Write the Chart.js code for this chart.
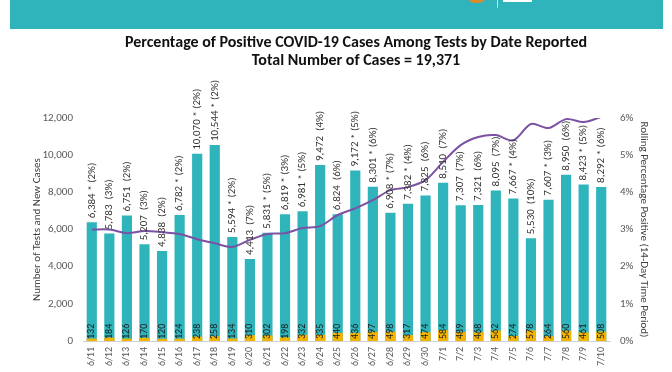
<!DOCTYPE html>
<html>
<head>
<meta charset="utf-8">
<script src="https://cdn.jsdelivr.net/npm/chart.js@4/dist/chart.umd.min.js"></script>
<style>
  html, body { margin: 0; padding: 0; background: #fff; }
  #wrap { position: relative; width: 672px; height: 372px; overflow: hidden; }
  #banner { position: absolute; left: 10px; top: 0; width: 653px; height: 29px; background: #30b4bb; }
  #sol { position: absolute; left: 468px; top: -6px; width: 17px; height: 9px; border-radius: 50%; background: #d98a2b; }
  #raya { position: absolute; left: 497px; top: 0; width: 1px; height: 8px; background: #bfe6e8; }
  #cuadro { position: absolute; left: 503px; top: 0; width: 29px; height: 2px; background: #fff; }
  #titulo { position: absolute; left: 0; top: 33px; width: 712px; text-align: center;
            font: bold 16px Carlito, Lato, sans-serif; color: #111; line-height: 18px; }
  canvas { position: absolute; left: 0; top: 0; }
</style>
</head>
<body>
<div id="wrap">
  <div id="banner"></div>
  <div id="sol"></div>
  <div id="raya"></div>
  <div id="cuadro"></div>
  <canvas id="chart" width="672" height="372"></canvas>
  <div id="titulo">Percentage of Positive COVID-19 Cases Among Tests by Date Reported<br>Total Number of Cases = 19,371</div>
</div>
<script>
// datos
const fechas = ['6/11', '6/12', '6/13', '6/14', '6/15', '6/16', '6/17', '6/18', '6/19', '6/20',
  '6/21', '6/22', '6/23', '6/24', '6/25', '6/26', '6/27', '6/28', '6/29', '6/30',
  '7/1', '7/2', '7/3', '7/4', '7/5', '7/6', '7/7', '7/8', '7/9', '7/10'];

const pruebas = [6384, 5783, 6751, 5207, 4838, 6782, 10070, 10544, 5594, 4413,
  5831, 6819, 6981, 9472, 6824, 9172, 8301, 6908, 7382, 7825,
  8510, 7307, 7321, 8095, 7667, 5530, 7607, 8950, 8423, 8292];

const casos = [132, 184, 126, 170, 120, 124, 238, 258, 134, 310,
  302, 198, 332, 335, 440, 436, 497, 498, 317, 474,
  584, 489, 468, 562, 274, 578, 264, 560, 461, 508];

const porcentajeDia = [2, 3, 2, 3, 2, 2, 2, 2, 2, 7,
  5, 3, 5, 4, 6, 5, 6, 7, 4, 6,
  7, 7, 6, 7, 4, 10, 3, 6, 5, 6];

const asterisco = [1, 0, 0, 0, 0, 1, 1, 1, 1, 0,
  1, 1, 1, 0, 0, 1, 1, 1, 1, 0,
  0, 0, 0, 0, 1, 0, 1, 0, 1, 1];

const promedioMovil = [3.0, 3.0, 2.9, 2.96, 2.93, 2.88, 2.74, 2.63, 2.53, 2.72,
  2.88, 2.9, 3.04, 3.09, 3.39, 3.57, 3.79, 4.06, 4.14, 4.33,
  4.82, 5.27, 5.49, 5.54, 5.4, 5.84, 5.73, 5.97, 5.89, 6.03];

const ticksIzq = [0, 2000, 4000, 6000, 8000, 10000, 12000];
const ticksDer = [0, 1, 2, 3, 4, 5, 6];

const fuente = 'Carlito, Lato, sans-serif';

// etiquetas giradas sobre y dentro de las barras
const etiquetas = {
  id: 'etiquetas',
  afterDatasetsDraw(chart) {
    const ctx = chart.ctx;
    const metaPruebas = chart.getDatasetMeta(2);
    const metaCasos = chart.getDatasetMeta(1);
    const base = chart.scales.y.getPixelForValue(0);
    ctx.save();
    ctx.textBaseline = 'middle';
    ctx.textAlign = 'left';

    metaPruebas.data.forEach((barra, i) => {
      const texto = pruebas[i].toLocaleString('en-US') + (asterisco[i] ? ' * ' : '  ') + '(' + porcentajeDia[i] + '%)';
      ctx.save();
      ctx.translate(barra.x, barra.y - 4);
      ctx.rotate(-Math.PI / 2);
      ctx.font = '11px ' + fuente;
      ctx.fillStyle = '#333';
      ctx.fillText(texto, 0, 0);
      ctx.restore();
    });

    metaCasos.data.forEach((barra, i) => {
      ctx.save();
      ctx.translate(barra.x, base - 2);
      ctx.rotate(-Math.PI / 2);
      ctx.font = '10px ' + fuente;
      ctx.fillStyle = '#1a1a1a';
      ctx.fillText(String(casos[i]), 0, 0);
      ctx.restore();
    });
    ctx.restore();
  }
};

const ctx = document.getElementById('chart').getContext('2d');

new Chart(ctx, {
  type: 'bar',
  data: {
    labels: fechas,
    datasets: [
      {
        type: 'line',
        label: 'Rolling Percentage Positive',
        data: promedioMovil,
        yAxisID: 'y2',
        borderColor: '#7b52a3',
        borderWidth: 2,
        pointRadius: 0,
        tension: 0.3,
        fill: false,
        order: 0
      },
      {
        label: 'New Cases',
        data: casos,
        yAxisID: 'y',
        backgroundColor: '#f2b400',
        grouped: false,
        barPercentage: 0.58,
        categoryPercentage: 1,
        order: 1
      },
      {
        label: 'Tests',
        data: pruebas,
        yAxisID: 'y',
        backgroundColor: '#30b4bb',
        grouped: false,
        barPercentage: 0.58,
        categoryPercentage: 1,
        order: 2
      }
    ]
  },
  options: {
    responsive: false,
    animation: false,
    layout: { padding: { top: 118, left: 27, right: 18, bottom: 0 } },
    plugins: {
      legend: { display: false },
      tooltip: { enabled: false },
      title: { display: false }
    },
    scales: {
      x: {
        grid: { display: false, drawTicks: false },
        border: { color: '#d0d0d0' },
        ticks: { minRotation: 90, maxRotation: 90, color: '#595959', font: { size: 10, family: fuente }, padding: 6 },
        afterFit: axis => { axis.height = 31; }
      },
      y: {
        min: 0,
        max: 12000,
        afterBuildTicks: axis => { axis.ticks = ticksIzq.map(v => ({ value: v })); },
        afterFit: axis => { axis.width = 56; },
        grid: { display: false, drawTicks: false },
        border: { display: false },
        ticks: { color: '#595959', font: { size: 11, family: fuente }, padding: 10,
          callback: v => v.toLocaleString('en-US') },
        title: { display: true, text: 'Number of Tests and New Cases', color: '#404040',
          font: { size: 11, family: fuente }, padding: 4 }
      },
      y2: {
        position: 'right',
        min: 0,
        max: 6,
        afterBuildTicks: axis => { axis.ticks = ticksDer.map(v => ({ value: v })); },
        afterFit: axis => { axis.width = 44; },
        grid: { display: false, drawTicks: false },
        border: { display: false },
        ticks: { color: '#595959', font: { size: 11, family: fuente }, padding: 10,
          callback: v => v + '%' },
        title: { display: true, text: 'Rolling Percentage Positive (14-Day Time Period)', color: '#404040',
          font: { size: 11, family: fuente }, padding: 4 }
      }
    }
  },
  plugins: [etiquetas]
});
</script>
</body>
</html>
